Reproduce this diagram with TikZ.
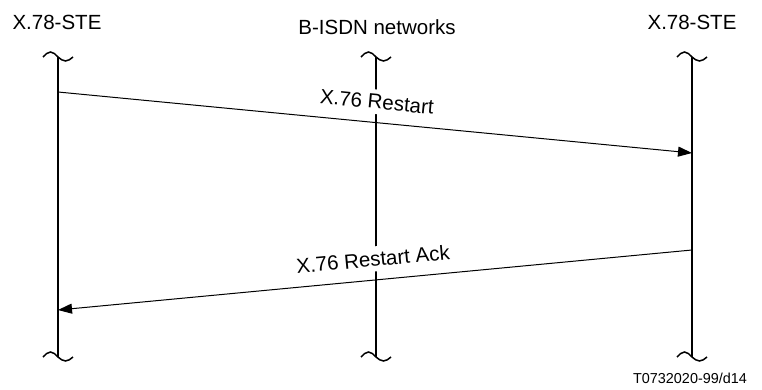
\documentclass[tikz,border=0pt]{standalone}
\usepackage{fontspec}
\setmainfont{Liberation Sans}
\usetikzlibrary{arrows.meta}

\tikzset{
    party/.style={anchor=base, font=\fontsize{20.5}{24}\selectfont},
    life/.style={line width=2pt},
    wave/.style={line width=1.5pt},
    msg/.style={line width=1pt},
    msglabel/.style={midway, above=8pt, sloped, fill=white, inner sep=5pt,
        font=\fontsize{20.5}{24}\selectfont}
}

\begin{document}
\begin{tikzpicture}[x=1pt, y=-1pt]
        \useasboundingbox (0,0) rectangle (762,390);
        % headers
        \node [party] (steA) at (57,30) {X.78-STE};
        \node [party] (net) at (377,35) {B-ISDN networks};
        \node [party] (steB) at (692,30) {X.78-STE};
        % life lines
        \coordinate (aTop) at (58,57);  \coordinate (aBot) at (58,357);
        \coordinate (nTop) at (376,57); \coordinate (nBot) at (376,357);
        \coordinate (bTop) at (692,57); \coordinate (bBot) at (692,357);
        \draw [life] (aTop) -- (aBot);
        \draw [life] (nTop) -- (nBot);
        \draw [life] (bTop) -- (bBot);
        \foreach \p in {aTop,aBot,nTop,nBot,bTop,bBot}
            \draw [wave] ([xshift=-15pt]\p) sin ([xshift=-7.5pt,yshift=5pt]\p) cos (\p)
                sin ([xshift=7.5pt,yshift=-4pt]\p) cos ([xshift=15pt]\p);
        % messages
        \coordinate (aOut) at (58,92);   \coordinate (bIn) at (692,153);
        \coordinate (aIn) at (58,310);   \coordinate (bOut) at (692,250);
        \draw [msg, -{Triangle[length=14pt,width=10pt]}] (aOut) -- node [msglabel] {X.76 Restart} (bIn);
        \draw [msg, {Triangle[length=14pt,width=10pt]}-] (aIn) -- node [msglabel] {X.76 Restart Ack} (bOut);
        % figure number
        \node [anchor=base, font=\fontsize{14.4}{17}\selectfont] (fig) at (690,383) {T0732020-99/d14};
    \end{tikzpicture}
\end{document}
